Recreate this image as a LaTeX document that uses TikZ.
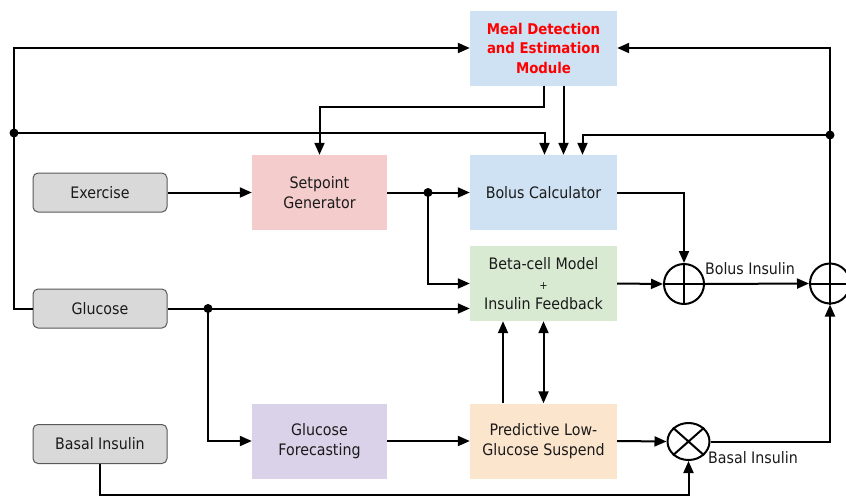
\documentclass[tikz,border=0pt]{standalone}
\usepackage{fontspec}
\setmainfont{DejaVu Sans Condensed}
\usetikzlibrary{arrows.meta,shapes.geometric}
\definecolor{mealc}{HTML}{CFE2F3}
\definecolor{setc}{HTML}{F4CCCC}
\definecolor{betac}{HTML}{D9EAD3}
\definecolor{predc}{HTML}{FCE5CD}
\definecolor{forc}{HTML}{D9D2E9}
\definecolor{inpc}{HTML}{D9D9D9}
\definecolor{txtc}{HTML}{1A1A1A}
\begin{document}
\begin{tikzpicture}[x=1pt,y=-1pt,
  txt/.style={text=txtc,font=\fontsize{15.8}{20}\selectfont},
  blk/.style={txt,minimum width=147pt,minimum height=75pt,inner sep=0pt,align=center},
  blk2/.style={blk,minimum width=135pt},
  inp/.style={txt,rounded corners=5pt,draw=black!65,fill=inpc,line width=1pt,
    minimum width=134pt,minimum height=39pt,inner sep=0pt},
  conn/.style={line width=2pt},
  arr/.style={conn,-{Triangle[length=12pt,width=10pt]}},
  arr2/.style={conn,{Triangle[length=12pt,width=10pt]}-{Triangle[length=12pt,width=10pt]}},
  jdot/.style={circle,fill=black,inner sep=0pt,minimum size=9pt},
  sumc/.style={circle,draw,line width=2pt,minimum size=40pt,inner sep=0pt},
  mulc/.style={ellipse,draw,line width=2pt,minimum width=42pt,minimum height=37pt,inner sep=0pt}]
\useasboundingbox (0,0) rectangle (846,496);
\clip (0,0) rectangle (846,496);

% blocks
\node[blk,fill=mealc,text=red,font=\fontsize{14.8}{19.5}\selectfont\bfseries] (meal) at (543.5,48) {Meal Detection\\and Estimation\\Module};
\node[blk,fill=mealc] (bolus) at (543.5,192.5) {Bolus Calculator};
\node[blk,fill=betac] (beta) at (543.5,283.5) {Beta-cell Model\\{\fontsize{11}{20}\selectfont +}\\Insulin Feedback};
\node[blk,fill=predc] (plgs) at (543.5,441) {Predictive Low-\\Glucose Suspend};
\node[blk2,fill=setc] (setp) at (319.5,192.5) {Setpoint\\Generator};
\node[blk2,fill=forc] (fore) at (319.5,441) {Glucose\\Forecasting};
\node[inp] (ex) at (100,192.5) {Exercise};
\node[inp] (glu) at (100,308.5) {Glucose};
\node[inp] (bas) at (100,444) {Basal Insulin};

% summing / multiplying junctions
\node[sumc] (s1) at (684,284) {};
\node[sumc] (s2) at (830,283.5) {};
\node[mulc] (m1) at (688.5,441.5) {};
\draw[conn] (s1.north) -- (s1.south) (s1.west) -- (s1.east);
\draw[conn] (s2.north) -- (s2.south) (s2.west) -- (s2.east);
\draw[conn] (m1.north west) -- (m1.south east) (m1.north east) -- (m1.south west);

% junction dots
\node[jdot] (dL) at (14,133) {};
\node[jdot] (dR) at (830,135) {};
\node[jdot] (dS) at (428,192.5) {};
\node[jdot] (dG) at (208,308.5) {};

% connectors
\draw[arr] (glu.west) -- ++(-19,0) |- (meal.west);
\draw[arr] (dL.center) -| ([xshift=1pt]bolus.north);
\draw[arr] (meal.south) -- ++(0,21) -| (setp.north);
\draw[arr] ([xshift=20pt]meal.south) -- ([xshift=20pt]bolus.north);
\draw[arr] (s2.north) |- (meal.east);
\draw[arr] (dR.center) -| ([xshift=39pt]bolus.north);
\draw[arr] (ex.east) -- (setp.west);
\draw[arr] (setp.east) -- (bolus.west);
\draw[arr] (dS.center) |- (beta.west);
\draw[arr] (glu.east) -- (glu.east -| beta.west);
\draw[arr] (dG.center) |- (fore.west);
\draw[arr] (fore.east) -- (plgs.west);
\draw[arr] ([xshift=-40.5pt]plgs.north) -- ([xshift=-40.5pt]beta.south);
\draw[arr2] (plgs.north) -- (beta.south);
\draw[arr] (bolus.east) -| (s1.north);
\draw[arr] (beta.east) -- (s1.west);
\draw[arr] (s1.east) -- (s2.west);
\draw[arr] (plgs.east) -- (m1.west);
\draw[arr] (m1.east) -| (s2.south);
\draw[arr] (bas.south) -- ++(0,31) -| (m1.south);

% labels
\node[txt,inner sep=0pt] (lbolus) at (750,269) {Bolus Insulin};
\node[txt,inner sep=0pt] (lbasal) at (753,458) {Basal Insulin};
\end{tikzpicture}
\end{document}
